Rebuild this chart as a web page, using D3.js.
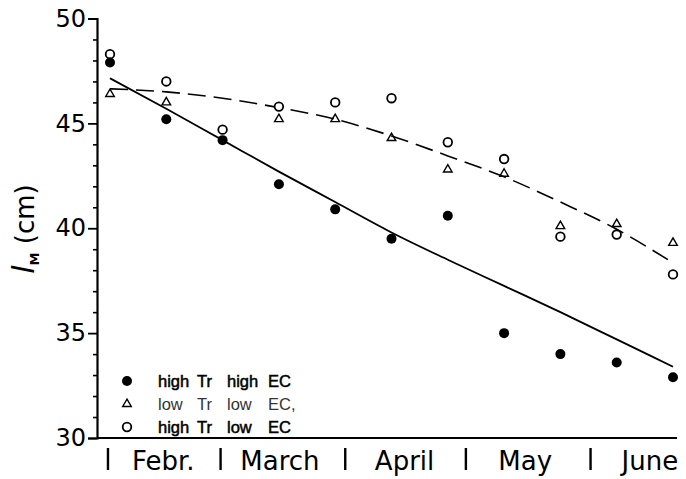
<!DOCTYPE html>
<html>
<head>
<meta charset="utf-8">
<script src="https://cdn.jsdelivr.net/npm/d3@7"></script>
<style>
  html, body { margin: 0; padding: 0; background: #fff; }
  svg { display: block; font-family: "DejaVu Sans", sans-serif; }
</style>
</head>
<body>
<script>
// sampling dates (roughly every two weeks)
var sampleDates = ["1981-02-02", "1981-02-16", "1981-03-02", "1981-03-16", "1981-03-30",
                   "1981-04-13", "1981-04-27", "1981-05-11", "1981-05-25", "1981-06-08", "1981-06-22"];
var highTrHighEC = [47.9, 45.2, 44.2, 42.1, 40.9, 39.5, 40.6, 35.0, 34.0, 33.6, 32.9];
var lowTrLowEC   = [46.4, 46.0, null, 45.2, 45.2, 44.3, 42.8, 42.6, 40.1, 40.2, 39.3];
var highTrLowEC  = [48.3, 47.0, 44.7, 45.8, 46.0, 46.2, 44.1, 43.3, 39.6, 39.7, 37.8];
// fitted curves
var fitSolid  = [47.15, 45.7, 44.2, 42.7, 41.25, 39.8, 38.5, 37.25, 36.0, 34.7, 33.4];
var fitDashed = [46.65, 46.5, 46.2, 45.75, 45.2, 44.4, 43.45, 42.45, 41.25, 39.95, 38.35];
// axis labels
var monthStarts = ["1981-02-01", "1981-03-01", "1981-04-01", "1981-05-01", "1981-06-01"];
var monthMids   = ["1981-02-15", "1981-03-16", "1981-04-16", "1981-05-16", "1981-06-16"];
var monthNames  = ["Febr.", "March", "April", "May", "June"];
var yMajor = [30, 35, 40, 45, 50];
var legendRows = [
    {words: ["high", "Tr", "high", "EC"], sym: "filled"},
    {words: ["low", "Tr", "low", "EC,"], sym: "triangle"},
    {words: ["high", "Tr", "low", "EC"], sym: "open"}
];

var width = 686, height = 479;
var plotLeft = 97, plotRight = 677, plotTop = 18.5, plotBottom = 438;
var parse = d3.timeParse("%Y-%m-%d");
var dates = sampleDates.map(parse);

var x = d3.scaleTime()
    .domain([dates[0], dates[dates.length - 1]])
    .range([110, 673]);
var y = d3.scaleLinear()
    .domain([30, 50])
    .range([plotBottom, plotTop]);

var svg = d3.select("body").append("svg")
    .attr("width", width)
    .attr("height", height);

// y axis: major + minor ticks
var yAxis = svg.append("g")
    .attr("transform", "translate(" + plotLeft + ",0)")
    .call(d3.axisLeft(y).tickValues(yMajor).tickSize(9).tickPadding(2).tickFormat(d3.format("d")));
yAxis.select(".domain").attr("stroke-width", 2.2);
yAxis.selectAll(".tick line").attr("stroke-width", 1.8);
yAxis.selectAll(".tick text")
    .attr("font-size", 24)
    .attr("font-family", "DejaVu Sans")
    .attr("fill", "#000");

var yMinor = svg.append("g")
    .attr("transform", "translate(" + plotLeft + ",0)")
    .call(d3.axisLeft(y).tickValues(d3.range(30, 51).filter(function(d) { return d % 5 !== 0; }))
        .tickSize(4).tickFormat(""));
yMinor.select(".domain").remove();
yMinor.selectAll(".tick line").attr("stroke-width", 1.6);

// x axis baseline
svg.append("line")
    .attr("x1", plotLeft).attr("x2", plotRight)
    .attr("y1", plotBottom).attr("y2", plotBottom)
    .attr("stroke", "#000").attr("stroke-width", 2.2);

// month dividers and names
svg.selectAll(".mdiv")
    .data(monthStarts.map(parse))
    .enter().append("line")
        .attr("class", "mdiv")
        .attr("x1", function(d) { return x(d) + 2; })
        .attr("x2", function(d) { return x(d) + 2; })
        .attr("y1", 448).attr("y2", 470)
        .attr("stroke", "#000").attr("stroke-width", 2.4);

svg.selectAll(".mname")
    .data(monthMids.map(parse))
    .enter().append("text")
        .attr("class", "mname")
        .attr("x", function(d) { return x(d) + 1; })
        .attr("y", 470)
        .attr("text-anchor", "middle")
        .attr("font-size", 26)
        .text(function(d, i) { return monthNames[i]; });

// y title
var yTitle = svg.append("text")
    .attr("transform", "translate(34,229) rotate(-90)")
    .attr("text-anchor", "middle")
    .attr("font-size", 26);
yTitle.append("tspan")
    .attr("font-style", "italic")
    .attr("font-size", 30)
    .text("l");
yTitle.append("tspan")
    .attr("font-size", 13)
    .attr("font-weight", "bold")
    .attr("dy", 5)
    .text("M");
yTitle.append("tspan")
    .attr("dy", -5)
    .text(" (cm)");

// fitted curves
var line = d3.line()
    .x(function(d, i) { return x(dates[i]); })
    .y(function(d) { return y(d); })
    .curve(d3.curveMonotoneX);

svg.append("path")
    .datum(fitSolid)
    .attr("d", line)
    .attr("fill", "none")
    .attr("stroke", "#000")
    .attr("stroke-width", 1.8);

svg.append("path")
    .datum(fitDashed)
    .attr("d", line)
    .attr("fill", "none")
    .attr("stroke", "#000")
    .attr("stroke-width", 1.6)
    .attr("stroke-dasharray", "18,8");

// markers
var triangle = d3.symbol().type(d3.symbolTriangle).size(32);

function drawMarker(g, kind) {
    if (kind === "filled") {
        g.append("circle").attr("r", 5).attr("fill", "#000");
    } else if (kind === "open") {
        g.append("circle").attr("r", 4.3).attr("fill", "#fff")
            .attr("stroke", "#000").attr("stroke-width", 1.8);
    } else {
        g.append("path").attr("d", triangle).attr("fill", "none")
            .attr("stroke", "#000").attr("stroke-width", 1.4);
    }
}

function drawSeries(values, kind) {
    svg.selectAll(".pt-" + kind)
        .data(values.map(function(v, i) { return {v: v, d: dates[i]}; })
            .filter(function(p) { return p.v !== null; }))
        .enter().append("g")
            .attr("class", "pt-" + kind)
            .attr("transform", function(p) { return "translate(" + x(p.d) + "," + y(p.v) + ")"; })
            .each(function() { drawMarker(d3.select(this), kind); });
}

drawSeries(lowTrLowEC, "triangle");
drawSeries(highTrLowEC, "open");
drawSeries(highTrHighEC, "filled");

// legend
var colX = [158, 197, 227, 268];
legendRows.forEach(function(row, r) {
    var cy = 381 + r * 23;
    var g = svg.append("g").attr("transform", "translate(127," + cy + ")");
    drawMarker(g, row.sym);
    var t = svg.append("text")
        .attr("y", cy + 6)
        .attr("font-family", "Liberation Sans, Arial, sans-serif")
        .attr("font-size", 16.5)
        .attr("fill", r === 1 ? "#333" : "#000")
        .attr("stroke", r === 1 ? "none" : "#000")
        .attr("stroke-width", 0.5);
    row.words.forEach(function(w, i) {
        t.append("tspan").attr("x", colX[i]).text(w);
    });
});
</script>
</body>
</html>
